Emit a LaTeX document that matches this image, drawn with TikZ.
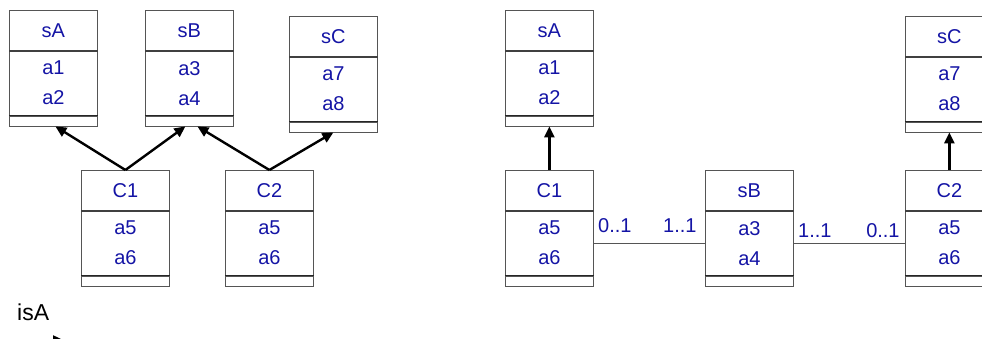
\documentclass[tikz,border=0pt]{standalone}
\usepackage{fontspec}
\setmainfont{Liberation Sans}
\usetikzlibrary{positioning,arrows.meta}

\definecolor{umlblue}{RGB}{20,20,165}
\definecolor{umlline}{RGB}{85,85,85}

\begin{document}
\begin{tikzpicture}[x=1pt, y=-1pt,
    every node/.style={font=\fontsize{20}{30}\selectfont},
    title/.style={rectangle, draw=umlline, line width=0.8pt, minimum width=88pt, minimum height=40pt, inner sep=0pt, text=umlblue, anchor=north west},
    attrs/.style={rectangle, draw=umlline, line width=0.8pt, minimum width=88pt, minimum height=64pt, inner sep=0pt, align=center, text=umlblue, below=0pt of #1},
    ops/.style={rectangle, draw=umlline, line width=0.8pt, minimum width=88pt, minimum height=10pt, inner sep=0pt, below=0pt of #1},
    isa/.style={-{Triangle[length=11pt,width=10pt]}, line width=2.4pt},
    assoc/.style={draw=umlline, line width=0.8pt},
    mult/.style={text=umlblue, inner sep=0pt}]

    \clip (0,0) rectangle (982,339);

    % 左: 继承
    \node[title] (lA) at (9,10) {sA};
    \node[attrs=lA] (lAa) {a1\\a2};
    \node[ops=lAa] (lAo) {};
    \node[title] (lB) at (145,10) {sB};
    \node[attrs=lB] (lBa) {a3\\a4};
    \node[ops=lBa] (lBo) {};
    \node[title] (lC) at (289,16) {sC};
    \node[attrs=lC] (lCa) {a7\\a8};
    \node[ops=lCa] (lCo) {};
    \node[title] (l1) at (81,170) {C1};
    \node[attrs=l1] (l1a) {a5\\a6};
    \node[ops=l1a] (l1o) {};
    \node[title] (l2) at (225,170) {C2};
    \node[attrs=l2] (l2a) {a5\\a6};
    \node[ops=l2a] (l2o) {};

    % 右: 关联
    \node[title] (rA) at (505,10) {sA};
    \node[attrs=rA] (rAa) {a1\\a2};
    \node[ops=rAa] (rAo) {};
    \node[title] (rC) at (905,16) {sC};
    \node[attrs=rC] (rCa) {a7\\a8};
    \node[ops=rCa] (rCo) {};
    \node[title] (r1) at (505,170) {C1};
    \node[attrs=r1] (r1a) {a5\\a6};
    \node[ops=r1a] (r1o) {};
    \node[title] (rB) at (705,170) {sB};
    \node[attrs=rB] (rBa) {a3\\a4};
    \node[ops=rBa] (rBo) {};
    \node[title] (r2) at (905,170) {C2};
    \node[attrs=r2] (r2a) {a5\\a6};
    \node[ops=r2a] (r2o) {};

    % 分隔线
    \foreach \c in {lA,lB,lC,l1,l2,rA,rC,r1,rB,r2}
        \draw[line width=1.6pt, black!75] (\c.south west) -- (\c.south east);
    \foreach \c in {lAa,lBa,lCa,l1a,l2a,rAa,rCa,r1a,rBa,r2a}
        \draw[line width=1pt, black!85] (\c.south west) -- (\c.south east);

    % 箭头
    \draw[isa] (l1.north) -- ([xshift=2pt]lAo.south);
    \draw[isa] (l1.north) -- ([xshift=-4pt]lBo.south);
    \draw[isa] (l2.north) -- ([xshift=8pt]lBo.south);
    \draw[isa] (l2.north) -- (lCo.south);
    \draw[isa] (r1.north) -- (rAo.south);
    \draw[isa] (r2.north) -- (rCo.south);

    % 关联线
    \draw[assoc] (r1a.east) -- (rBa.west)
        node[mult, pos=0, anchor=base west, xshift=4pt, yshift=11pt] {0..1}
        node[mult, pos=1, anchor=base east, xshift=-8pt, yshift=11pt] {1..1};
    \draw[assoc] (rBa.east) -- (r2a.west)
        node[mult, pos=0, anchor=base west, xshift=4pt, yshift=6pt] {1..1}
        node[mult, pos=1, anchor=base east, xshift=-5pt, yshift=6pt] {0..1};

    % 图例
    \node[anchor=base west, inner sep=0pt, font=\fontsize{23}{28}\selectfont] (legend) at (17,320) {isA};
    \coordinate (legS) at (-5,340.5);
    \coordinate (legE) at (64,340.5);
    \draw[isa] (legS) -- (legE);
\end{tikzpicture}
\end{document}
